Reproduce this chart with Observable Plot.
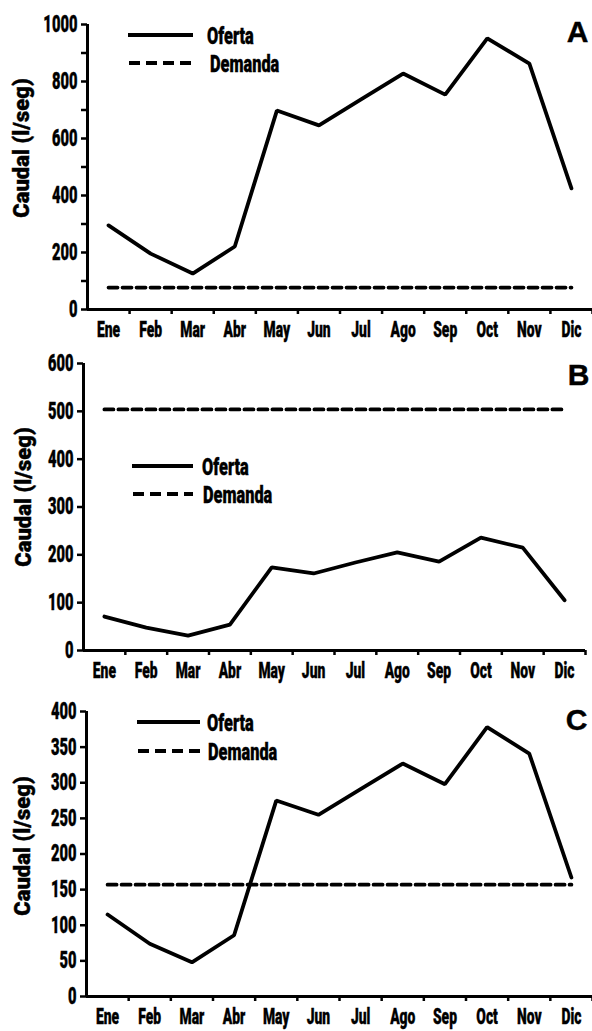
<!DOCTYPE html>
<html><head><meta charset="utf-8">
<script src="https://cdn.jsdelivr.net/npm/d3@7"></script>
<script src="https://cdn.jsdelivr.net/npm/@observablehq/plot@0.6"></script>
<style>
body{margin:0;background:#fff;}
#chart{position:relative;width:592px;}
.panel{position:relative;width:592px;}
.panel > svg{display:block}
.panel text{stroke:#000;stroke-width:0.4px;}
.legend{position:absolute;left:0;top:0;overflow:visible;pointer-events:none}
</style></head><body><div id="chart"></div>
<script>
const months = ["Ene","Feb","Mar","Abr","May","Jun","Jul","Ago","Sep","Oct","Nov","Dic"];
const ofertaA = [295,196,126,221,698,646,737,828,754,951,863,425];
const demandaA = 77;
const ofertaB = [71,48,31,54,174,161,184,205,186,236,215,105];
const demandaB = 504;
const ofertaC = [115,74,48,86,275,255,291,327,298,378,341,167];
const demandaC = 157;
const yTicksA = [0,100,200,300,400,500,600,700,800,900,1000];
const yLabelsA = [0,200,400,600,800,1000];
const yTicksB = [0,100,200,300,400,500,600];
const yTicksC = [0,50,100,150,200,250,300,350,400];
const seriesNames = ["Oferta","Demanda"];
const yTitle = "Caudal (l/seg)";
const letters = ["A","B","C"];

const FONT = "Roboto,'DejaVu Sans',sans-serif";

function condense(nodes, k) {
  nodes.forEach(el => {
    const len = el.getComputedTextLength();
    if (len > 0) {
      el.setAttribute("textLength", (len * k).toFixed(2));
      el.setAttribute("lengthAdjust", "spacingAndGlyphs");
    }
  });
}

function makePanel(o) {
  const rows = months.map((m, i) => ({month: m, pos: i + 0.5, value: o.oferta[i], demanda: o.demanda}));
  const plot = Plot.plot({
    width: 592, height: o.height,
    marginTop: o.mt, marginBottom: o.mb, marginLeft: o.ml, marginRight: o.mr,
    style: {fontFamily: FONT, background: "transparent", color: "#000", overflow: "visible"},
    x: {type: "linear", domain: [0, months.length], axis: null},
    y: {domain: o.yDomain, axis: null},
    marks: [
      Plot.axisY(o.yTicks, {tickFormat: d => o.yLabels.includes(d) ? String(d) : "", tickSize: 6, tickPadding: 4, strokeWidth: 2.5, fontSize: 23, fontWeight: 900, label: null}),
      Plot.axisX(d3.range(1, months.length + 1), {tickSize: 5, tickFormat: () => "", strokeWidth: 2.5, label: null}),
      Plot.axisX(rows.map(d => d.pos), {tickSize: 0, tickPadding: 12, tickFormat: d => months[Math.floor(d)], fontSize: 22, fontWeight: 900, label: null}),
      Plot.ruleX([0], {strokeWidth: 3}),
      Plot.ruleY([o.yDomain[0]], {strokeWidth: 3}),
      Plot.line(rows, {x: "pos", y: "value", strokeWidth: 3.8, strokeLinejoin: "miter"}),
      Plot.line(rows, {x: "pos", y: "demanda", strokeWidth: 3.8, strokeDasharray: "9,5"}),
      Plot.text([yTitle], {frameAnchor: "left", textAnchor: "middle", lineAnchor: "middle", rotate: -90, dx: o.labelDx, dy: o.labelDy, fontSize: 22, fontWeight: 900, ariaLabel: "ytitle"}),
      Plot.text([o.letter], {frameAnchor: "top-right", textAnchor: "middle", lineAnchor: "middle", dx: o.letterDx, dy: o.letterDy, fontSize: 30, fontWeight: "bold", fontFamily: "'Liberation Sans',sans-serif", ariaLabel: "letter"})
    ]
  });
  const div = document.createElement("div");
  div.className = "panel";
  div.appendChild(plot);
  // legend
  const L = o.legend;
  const svg = d3.create("svg").attr("class", "legend").attr("width", 592).attr("height", o.height);
  svg.append("line").attr("x1", L.x1).attr("x2", L.x2).attr("y1", L.y1).attr("y2", L.y1)
    .attr("stroke", "#000").attr("stroke-width", 3.8);
  svg.append("line").attr("x1", L.x1 + 1).attr("x2", L.x2).attr("y1", L.y2).attr("y2", L.y2)
    .attr("stroke", "#000").attr("stroke-width", 3.8).attr("stroke-dasharray", "11,6");
  svg.append("text").attr("class", "lg").attr("x", L.t1).attr("y", L.y1 + 8.5).text(seriesNames[0])
    .attr("font-family", FONT).attr("font-size", 24).attr("font-weight", 900);
  svg.append("text").attr("class", "lg").attr("x", L.t2).attr("y", L.y2 + 8.5).text(seriesNames[1])
    .attr("font-family", FONT).attr("font-size", 24).attr("font-weight", 900);
  div.appendChild(svg.node());
  return div;
}

const chart = document.getElementById("chart");
const panels = [
  makePanel({
    oferta: ofertaA, demanda: demandaA, yDomain: [0, 1000], yTicks: yTicksA, yLabels: yLabelsA,
    letter: letters[0], height: 340, mt: 24, mb: 31, ml: 87, mr: 0,
    labelDx: -66, labelDy: -19, letterDx: -15, letterDy: 8,
    legend: {x1: 128, x2: 193, y1: 35, y2: 63, t1: 207, t2: 210}
  }),
  makePanel({
    oferta: ofertaB, demanda: demandaB, yDomain: [0, 600], yTicks: yTicksB, yLabels: yTicksB,
    letter: letters[1], height: 350, mt: 23, mb: 40, ml: 83, mr: 7,
    labelDx: -60, labelDy: -10, letterDx: -7, letterDy: 12,
    legend: {x1: 132, x2: 193, y1: 126, y2: 154, t1: 202, t2: 203}
  }),
  makePanel({
    oferta: ofertaC, demanda: demandaC, yDomain: [0, 400], yTicks: yTicksC, yLabels: yTicksC,
    letter: letters[2], height: 341, mt: 21, mb: 35, ml: 86, mr: 0,
    labelDx: -64, labelDy: -8, letterDx: -16, letterDy: 9,
    legend: {x1: 137, x2: 200, y1: 32, y2: 61, t1: 207, t2: 208}
  })
];
panels.forEach(p => chart.appendChild(p));
panels.forEach(p => {
  condense(p.querySelectorAll('[aria-label="y-axis tick label"] text'), 0.64);
  condense(p.querySelectorAll('[aria-label="x-axis tick label"] text'), 0.63);
  condense(p.querySelectorAll('[aria-label="ytitle"] text'), 0.8);
  condense(p.querySelectorAll('[aria-label="letter"] text'), 0.85);
  condense(p.querySelectorAll('text.lg'), 0.68);
});
</script></body></html>
